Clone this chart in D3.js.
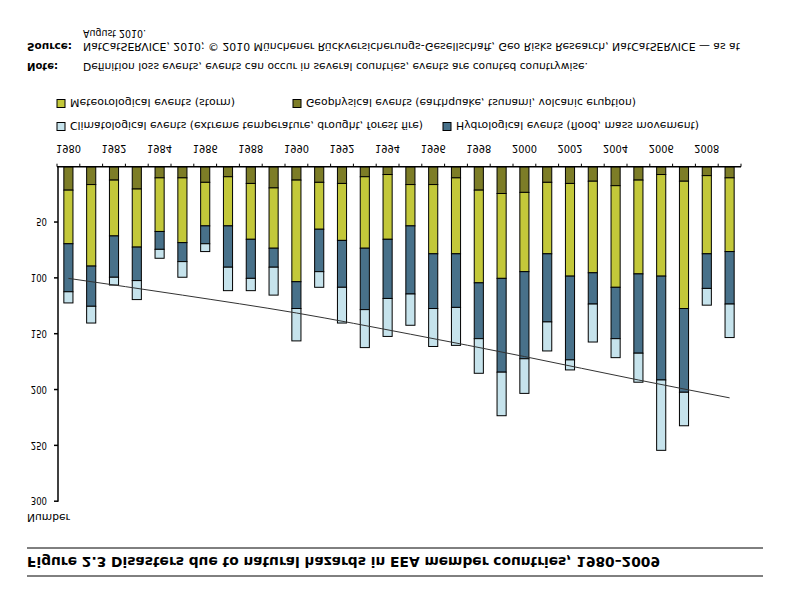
<!DOCTYPE html>
<html><head><meta charset="utf-8">
<script src="https://cdn.jsdelivr.net/npm/d3@7"></script>
<style>html,body{margin:0;padding:0;background:#fff;}svg{display:block;}</style>
</head><body>
<script>
const years = d3.range(1980, 2010);
const geophysical    = [21,16,12,20,10,10,14, 9,15,19,12,14,15, 9, 7,16,16,10,21,24,23,14,15,13,17,12, 7,13, 8,10];
const meteorological = [48,73,50,52,48,58,39,44,50,54,91,42,51,64,58,37,62,68,83,76,71,64,83,82,91,84,91,114,70,66];
const hydrological   = [43,36,37,30,16,17,16,37,35,17,24,38,42,55,53,61,49,48,50,84,78,61,75,28,46,71,93,75,31,47];
const climatological = [10,15, 7,17, 8,14, 7,21,11,25,29,14,32,34,34,28,34,34,31,39,31,26, 9,34,17,26,63,30,15,30];
const trendYears = [1980, 1985, 1990, 1995, 2000, 2005, 2009];
const trendValues = [100, 115, 131, 150, 170, 191, 207];
const yTicks = [50,100,150,200,250,300];
const yearLabels = d3.range(1980, 2010, 2);
const seriesNames = ["Geophysical","Meteorological","Hydrological","Climatological"];
const seriesColors = ["#7d7d27","#c3c83a","#48718a","#c6e3ec"];
const legendItems = [
  {name:"Climatological", label:"Climatological events (extreme temperature, drought, forest fire)", x:57, y:466, w:353},
  {name:"Hydrological", label:"Hydrological events (flood, mass movement)", x:443, y:466, w:243},
  {name:"Meteorological", label:"Meteorological events (storm)", x:57, y:489, w:165},
  {name:"Geophysical", label:"Geophysical events (earthquake, tsunami, volcanic eruption)", x:293, y:489, w:330}
];
const titleText = "Figure 2.3 Disasters due to natural hazards in EEA member countries, 1980\u20132009";
const noteText = "Definition loss events, events can occur in several countries, events are counted countrywise.";
const sourceText = "NatCatSERVICE, 2010; \u00a9 2010 M\u00fcnchener R\u00fcckversicherungs-Gesellschaft, Geo Risks Research, NatCatSERVICE \u2014 as at";
const sourceText2 = "August 2010.";

const W = 786, H = 592;
const FONT = "Verdana, 'DejaVu Sans', sans-serif";
const svg = d3.select("body").append("svg").attr("width", W).attr("height", H);
svg.append("rect").attr("width", W).attr("height", H).attr("fill", "#fff");
const g = svg.append("g").attr("transform", `translate(0,${H}) scale(1,-1)`);

function txt(x, y, s, size, opts = {}) {
  const t = g.append("text").attr("x", x).attr("y", y).text(s)
    .attr("font-family", FONT).attr("font-size", size).attr("fill", "#000")
    .attr("font-weight", opts.bold ? "bold" : "normal")
    .attr("text-anchor", opts.anchor || "start");
  if (opts.w) t.attr("textLength", opts.w).attr("lengthAdjust", "spacingAndGlyphs");
  return t;
}

// Title block
g.append("line").attr("x1", 27).attr("x2", 763).attr("y1", 16).attr("y2", 16).attr("stroke", "#000").attr("stroke-width", 1);
g.append("line").attr("x1", 27).attr("x2", 763).attr("y1", 44).attr("y2", 44).attr("stroke", "#000").attr("stroke-width", 1);
txt(27, 35, titleText, 14, {bold: true, w: 633});

// Scales
const x = d3.scaleBand().domain(years).range([57, 741]).paddingInner(0.6).paddingOuter(0.3);
const y = d3.scaleLinear().domain([0, 300]).range([425.3, 90.3]);

const stackData = years.map((yr, i) => ({year: yr, Geophysical: geophysical[i], Meteorological: meteorological[i], Hydrological: hydrological[i], Climatological: climatological[i]}));
const stack = d3.stack().keys(seriesNames)(stackData);
const color = d3.scaleOrdinal().domain(seriesNames).range(seriesColors);

g.selectAll("g.series").data(stack).join("g").attr("class", "series")
  .attr("fill", d => color(d.key))
  .selectAll("rect").data(d => d).join("rect")
  .attr("x", d => x(d.data.year))
  .attr("width", x.bandwidth())
  .attr("y", d => y(d[1]))
  .attr("height", d => y(d[0]) - y(d[1]))
  .attr("stroke", "#000").attr("stroke-width", 1);

// Trend line
const line = d3.line().x(d => x(d[0]) + x.bandwidth() / 2).y(d => y(d[1])).curve(d3.curveMonotoneX);
g.append("path").datum(trendYears.map((yr, i) => [yr, trendValues[i]]))
  .attr("d", line).attr("fill", "none").attr("stroke", "#333").attr("stroke-width", 1);

// Y axis
const yAxis = g.append("g").attr("transform", "translate(58,0)")
  .call(d3.axisLeft(y).tickValues(yTicks).tickSize(4).tickPadding(7).tickFormat(d3.format("d")));
yAxis.select(".domain").attr("d", `M0,${y(0)}V${y(300)}`).attr("stroke-width", 1.5);
yAxis.selectAll(".tick line").attr("stroke-width", 1.5);
yAxis.selectAll(".tick text").attr("font-family", FONT).attr("font-size", 11).attr("fill", "#000")
  .attr("dy", "0.35em")
  .attr("textLength", d => String(d).length * 5.4).attr("lengthAdjust", "spacingAndGlyphs");
txt(27, 78, "Number", 11, {w: 43});

// X axis
const bounds = years.map(yr => x(yr) - (x.step() - x.bandwidth()) / 2).concat([741]);
g.append("line").attr("x1", 57).attr("x2", 741).attr("y1", y(0)).attr("y2", y(0)).attr("stroke", "#000").attr("stroke-width", 1.5);
g.selectAll("line.xt").data(bounds).join("line").attr("class", "xt")
  .attr("x1", d => d).attr("x2", d => d).attr("y1", y(0)).attr("y2", y(0) + 3)
  .attr("stroke", "#000").attr("stroke-width", 1);
g.selectAll("text.yl").data(yearLabels).join("text").attr("class", "yl")
  .attr("x", d => x(d) + x.bandwidth() / 2).attr("y", 447).text(d => d)
  .attr("font-family", FONT).attr("font-size", 11).attr("text-anchor", "middle").attr("fill", "#000")
  .attr("textLength", 25).attr("lengthAdjust", "spacingAndGlyphs");

// Legend
legendItems.forEach(it => {
  g.append("rect").attr("x", it.x).attr("y", it.y - 4.5).attr("width", 8).attr("height", 8)
    .attr("fill", color(it.name)).attr("stroke", "#000").attr("stroke-width", 1);
  txt(it.x + 13, it.y + 4, it.label, 11, {w: it.w});
});

// Notes
txt(27, 529, "Note:", 11, {bold: true, w: 31});
txt(83, 529, noteText, 11, {w: 505});
txt(27, 549, "Source:", 11, {bold: true, w: 45});
txt(83, 549, sourceText, 11, {w: 657});
txt(83, 562, sourceText2, 11, {w: 63});
</script>
</body></html>
